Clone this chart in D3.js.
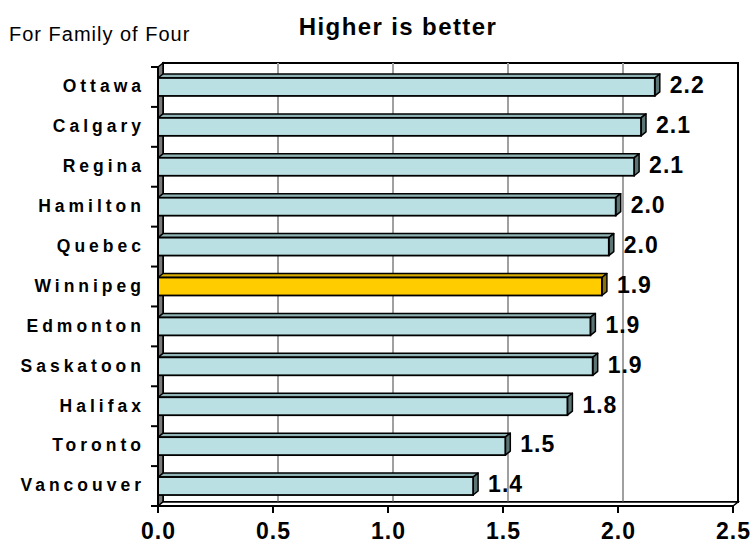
<!DOCTYPE html>
<html><head><meta charset="utf-8">
<script src="https://cdn.jsdelivr.net/npm/d3@7/dist/d3.min.js"></script>
<style>body{margin:0;background:#fff}svg{display:block}text{font-family:Arial,"Liberation Sans",sans-serif;fill:#000}</style>
</head><body>
<svg id="c" width="755" height="544"></svg>
<script>
const cities = ["Ottawa","Calgary","Regina","Hamilton","Quebec","Winnipeg","Edmonton","Saskatoon","Halifax","Toronto","Vancouver"];
const values = [2.16,2.10,2.07,1.99,1.96,1.93,1.88,1.89,1.78,1.51,1.37];
const highlight = ["Winnipeg"];
const xTicks = [0,0.5,1.0,1.5,2.0,2.5];
const titleText = "Higher is better";
const subtitleText = "For Family of Four";

const svg = d3.select("#c");
const X0 = 158, X1 = 733, Y0 = 67, Y1 = 506, DX = 5, DY = -4;
const x = d3.scaleLinear().domain([0,2.5]).range([X0,X1]);
const y = d3.scaleBand().domain(cities).range([Y0,Y1]).paddingInner(0.55).paddingOuter(0.275);
const step = y.step();
const fmt = d3.format(".1f");

// back wall
svg.append("rect").attr("x",X0+DX).attr("y",Y0+DY).attr("width",X1-X0).attr("height",Y1-Y0)
  .attr("fill","#fff").attr("stroke","#000").attr("stroke-width",2);
// gridlines on back wall
svg.selectAll("line.grid").data(xTicks.slice(1,-1)).join("line").attr("class","grid")
  .attr("x1",d=>x(d)+DX).attr("x2",d=>x(d)+DX).attr("y1",Y0+DY).attr("y2",Y1+DY)
  .attr("stroke","#a0a0a0").attr("stroke-width",2);
// left wall
svg.append("path").attr("d",`M${X0},${Y0}L${X0+DX},${Y0+DY}L${X0+DX},${Y1+DY}L${X0},${Y1}Z`)
  .attr("fill","#7a7a7a").attr("stroke","#000").attr("stroke-width",1.5);
// bottom wall
svg.append("path").attr("d",`M${X0},${Y1}L${X0+DX},${Y1+DY}L${X1+DX},${Y1+DY}L${X1},${Y1}Z`)
  .attr("fill","#fff").attr("stroke","#000").attr("stroke-width",1.5);

// bars
const g = svg.append("g");
cities.forEach((c,i)=>{
  const v = values[i];
  const hi = highlight.includes(c);
  const front = hi ? "#ffcc00" : "#bae0e3";
  const top = hi ? "#d9ad00" : "#8fb3b5";
  const side = hi ? "#8a7300" : "#5c7474";
  const bx0 = x(0), bx1 = x(v), by = y(c), bh = y.bandwidth();
  g.append("path").attr("d",`M${bx0},${by}L${bx0+DX},${by+DY}L${bx1+DX},${by+DY}L${bx1},${by}Z`)
    .attr("fill",top).attr("stroke","#000").attr("stroke-width",1.5).attr("stroke-linejoin","round");
  g.append("path").attr("d",`M${bx1},${by}L${bx1+DX},${by+DY}L${bx1+DX},${by+bh+DY}L${bx1},${by+bh}Z`)
    .attr("fill",side).attr("stroke","#000").attr("stroke-width",1.5).attr("stroke-linejoin","round");
  g.append("rect").attr("x",bx0).attr("y",by).attr("width",bx1-bx0).attr("height",bh)
    .attr("fill",front).attr("stroke","#000").attr("stroke-width",1.8);
  g.append("text").attr("x",bx1+DX+10).attr("y",by+bh/2-2).attr("dy","0.36em")
    .attr("font-size",23).attr("font-weight","bold").attr("letter-spacing",1).text(fmt(v));
});

// axes lines
svg.append("line").attr("x1",X0).attr("x2",X0).attr("y1",Y0).attr("y2",Y1).attr("stroke","#000").attr("stroke-width",2);
svg.append("line").attr("x1",X0).attr("x2",X1).attr("y1",Y1).attr("y2",Y1).attr("stroke","#000").attr("stroke-width",2);
// category ticks
svg.selectAll("line.ct").data(d3.range(cities.length+1)).join("line").attr("class","ct")
  .attr("x1",X0-7).attr("x2",X0).attr("y1",i=>Y0+i*step).attr("y2",i=>Y0+i*step)
  .attr("stroke","#000").attr("stroke-width",2);
// x ticks
svg.selectAll("line.xt").data(xTicks).join("line").attr("class","xt")
  .attr("x1",d=>x(d)).attr("x2",d=>x(d)).attr("y1",Y1).attr("y2",Y1+7)
  .attr("stroke","#000").attr("stroke-width",2);
svg.selectAll("text.xl").data(xTicks).join("text").attr("class","xl")
  .attr("x",d=>x(d)+0.5).attr("y",539).attr("text-anchor","middle")
  .attr("font-size",23).attr("font-weight","bold").attr("letter-spacing",1).text(d=>fmt(d));
// category labels
svg.selectAll("text.cl").data(cities).join("text").attr("class","cl")
  .attr("x",145).attr("y",c=>y(c)+y.bandwidth()/2-1).attr("dy","0.36em").attr("text-anchor","end")
  .attr("font-size",17.5).attr("font-weight","bold").attr("letter-spacing",4).text(c=>c);

// titles
svg.append("text").attr("x",398).attr("y",35).attr("text-anchor","middle")
  .attr("font-size",24).attr("font-weight","bold").attr("letter-spacing",1.4).text(titleText);
svg.append("text").attr("x",9).attr("y",41)
  .attr("font-size",20).attr("letter-spacing",1).text(subtitleText);
</script>
</body></html>
